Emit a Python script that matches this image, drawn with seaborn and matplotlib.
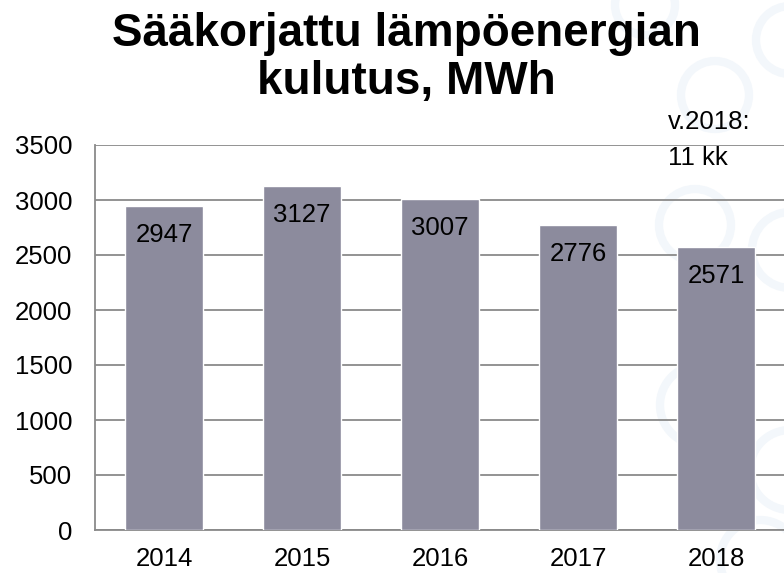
import matplotlib
matplotlib.use("Agg")
import matplotlib.pyplot as plt
from matplotlib.patches import Circle
import seaborn as sns
import pandas as pd

# ================================
# DATA
# ================================
years = ["2014", "2015", "2016", "2017", "2018"]
kulutus = [2947, 3127, 3007, 2776, 2571]
y_ticks = [0, 500, 1000, 1500, 2000, 2500, 3000, 3500]

title_text = "Sääkorjattu lämpöenergian\nkulutus, MWh"
note_text = "v.2018:\n11 kk"

df = pd.DataFrame({"Vuosi": years, "MWh": kulutus})

# ================================
# STYLE
# ================================
sns.set_style("white")
plt.rcParams["font.family"] = ["Liberation Sans", "DejaVu Sans"]
plt.rcParams["text.color"] = "black"

BAR_COLOR = "#8c8b9d"
GRID_COLOR = "#8a8a8a"
FS = 18.5

fig = plt.figure(figsize=(7.84, 5.73), dpi=100)

# very faint ring decoration in the background (right side), pixel coords
rings = [(645, 5, 30), (715, 95, 34), (790, 40, 34), (695, 225, 36),
         (790, 250, 38), (700, 405, 40), (790, 470, 40), (760, 560, 40)]
for cx, cy, r in rings:
    fig.patches.append(Circle((cx / 100, (573 - cy) / 100), r / 100,
                              transform=fig.dpi_scale_trans, fill=False,
                              edgecolor="#f3f7fb", lw=6, zorder=-1))

ax = fig.add_axes([95 / 784, 1 - 530 / 573, 690 / 784, 385 / 573])
ax.patch.set_alpha(0)

sns.barplot(data=df, x="Vuosi", y="MWh", color=BAR_COLOR, saturation=1,
            width=0.565, ax=ax, zorder=3)

ax.set_ylim(0, 3500)
ax.set_xlim(-0.5, 4.5)
ax.set_yticks(y_ticks)
ax.yaxis.grid(True, color=GRID_COLOR, lw=1.3, zorder=1)
ax.set_axisbelow(True)
ax.tick_params(axis="both", length=0, labelsize=FS, labelcolor="black")
ax.tick_params(axis="y", pad=16.5)
ax.tick_params(axis="x", pad=12)
ax.set_xlabel("")
ax.set_ylabel("")

for side in ["top", "right"]:
    ax.spines[side].set_visible(False)
for side in ["left", "bottom"]:
    ax.spines[side].set_color(GRID_COLOR)
    ax.spines[side].set_linewidth(1.3)

# value labels inside the bars
for i, v in enumerate(kulutus):
    ax.annotate(str(v), xy=(i, v), xytext=(0, -21), textcoords="offset points",
                ha="center", va="center", fontsize=FS, color="black", zorder=5)

# title and note
fig.text(406 / 784, 1 - 12 / 573, title_text, ha="center", va="top",
         fontsize=33, fontweight="bold", linespacing=1.12, color="black")
fig.text(668 / 784, 1 - 110 / 573, note_text, ha="left", va="top",
         fontsize=FS, linespacing=1.65, color="black")

fig.savefig("out.png", dpi=100)
